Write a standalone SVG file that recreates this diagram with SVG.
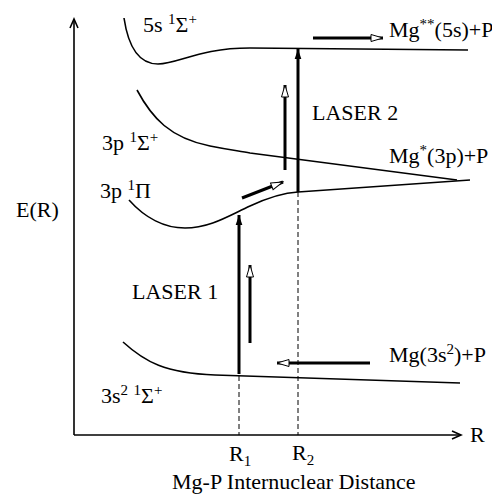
<svg xmlns="http://www.w3.org/2000/svg" width="492" height="497" viewBox="0 0 492 497">
<defs>
<style>
text{font-family:"Liberation Serif","Times New Roman",serif;font-size:22px;fill:#000}
.sup{font-size:15px}
.curve{fill:none;stroke:#000;stroke-width:1.6}
.axis{fill:none;stroke:#000;stroke-width:1.6}
.thick{stroke:#000;stroke-width:3;fill:none}
.dash{stroke:#000;stroke-width:1;stroke-dasharray:5,3;fill:none}
</style>
<marker id="solid" markerWidth="10" markerHeight="14" refX="12" refY="4" orient="auto" markerUnits="userSpaceOnUse" viewBox="0 0 12 8">
<path d="M0,0 L12,4 L0,8 Z" fill="#000"/>
</marker>
<marker id="open" markerWidth="14" markerHeight="10" refX="13" refY="4" orient="auto" markerUnits="userSpaceOnUse" viewBox="0 0 14 8">
<path d="M1,0.5 L13,4 L1,7.5 Z" fill="#fff" stroke="#000" stroke-width="1"/>
</marker>
<marker id="chev" markerWidth="12" markerHeight="12" refX="10" refY="5" orient="auto" markerUnits="userSpaceOnUse" viewBox="0 0 12 10">
<path d="M1,1 L10,5 L1,9" fill="none" stroke="#000" stroke-width="1.6"/>
</marker>
</defs>
<g id="axes">
<line class="axis" x1="74" y1="435" x2="74" y2="19" marker-end="url(#chev)"/>
<line class="axis" x1="74" y1="435" x2="461" y2="435" marker-end="url(#chev)"/>
<text x="470" y="442">R</text>
<text x="16" y="217">E(R)</text>
<text x="172" y="489">Mg-P Internuclear Distance</text>
</g>
<g id="state-5s">
<path class="curve" d="M124,18 C128,45 138,64 158,64 C180,63 200,48 250,48 L468,50"/>
<text x="143" y="32">5s <tspan class="sup" dy="-8">1</tspan><tspan dy="8">Σ</tspan><tspan class="sup" dy="-8">+</tspan></text>
<text x="389" y="37">Mg<tspan class="sup" dy="-8">**</tspan><tspan dy="8">(5s)+P</tspan></text>
</g>
<g id="state-3p-sigma">
<path class="curve" d="M137,90 C152,118 170,138 210,146 C230,150 240,151 250,153 L457,180"/>
<text x="102" y="150">3p <tspan class="sup" dy="-8">1</tspan><tspan dy="8">Σ</tspan><tspan class="sup" dy="-8">+</tspan></text>
<text x="389" y="163">Mg<tspan class="sup" dy="-8">*</tspan><tspan dy="8">(3p)+P</tspan></text>
</g>
<g id="state-3p-pi">
<path class="curve" d="M129,200 C145,218 165,228 185,228 C210,228 230,215 250,206 C265,199 280,193 298,192 L470,180"/>
<text x="100" y="198">3p <tspan class="sup" dy="-8">1</tspan><tspan dy="8">Π</tspan></text>
</g>
<g id="state-ground">
<path class="curve" d="M123,342 C145,362 165,373 215,375 L460,383"/>
<text x="101" y="403">3s<tspan class="sup" dy="-8">2</tspan><tspan dy="8"> </tspan><tspan class="sup" dy="-8">1</tspan><tspan dy="8">Σ</tspan><tspan class="sup" dy="-8">+</tspan></text>
<text x="389" y="362">Mg(3s<tspan class="sup" dy="-8">2</tspan><tspan dy="8">)+P</tspan></text>
</g>
<g id="labels">
<text x="132" y="299">LASER 1</text>
<text x="312" y="120">LASER 2</text>
<text x="229" y="461">R<tspan class="sup" dy="5">1</tspan></text>
<text x="292" y="460">R<tspan class="sup" dy="5">2</tspan></text>
</g>
<g id="connectors">
<line class="dash" x1="239" y1="376" x2="239" y2="435"/>
<line class="dash" x1="298" y1="192" x2="298" y2="435"/>
<line class="thick" x1="239" y1="374" x2="239" y2="215" marker-end="url(#solid)"/>
<line class="thick" x1="298" y1="192" x2="298" y2="49" marker-end="url(#solid)"/>
<line class="thick" x1="250" y1="343" x2="250" y2="265" marker-end="url(#open)"/>
<line class="thick" x1="285" y1="170" x2="285" y2="85" marker-end="url(#open)"/>
<line class="thick" x1="242" y1="198" x2="283" y2="182" marker-end="url(#open)"/>
<line class="thick" x1="313" y1="38" x2="383" y2="38" marker-end="url(#open)"/>
<line class="thick" x1="370" y1="363" x2="277" y2="363" marker-end="url(#open)"/>
</g>
</svg>
